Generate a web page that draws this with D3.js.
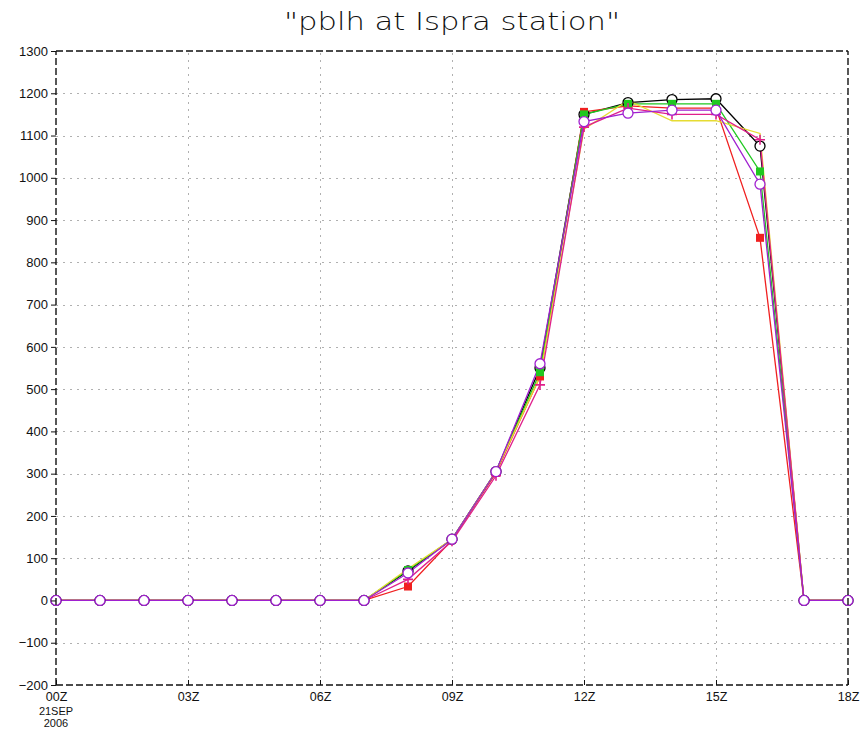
<!DOCTYPE html>
<html>
<head>
<meta charset="utf-8">
<script src="https://cdn.jsdelivr.net/npm/d3@7"></script>
<style>
  html, body { margin: 0; padding: 0; background: #fff; }
  svg { display: block; }
</style>
</head>
<body>
<svg id="chart" width="864" height="731"></svg>
<script>
// Hours after 00Z on 21 SEP 2006
const hours = d3.range(0, 19);
const xTickLabels = ["00Z", "03Z", "06Z", "09Z", "12Z", "15Z", "18Z"];
const yTicks = d3.range(-200, 1301, 100);

// Boundary-layer height (m) per run
const blackVals   = [0,0,0,0,0,0,0,0,70,145,305,550,1150,1178,1185,1187,1075,0,0];
const redVals     = [0,0,0,0,0,0,0,0,33,143,302,530,1156,1170,1165,1165,858,0,0];
const greenVals   = [0,0,0,0,0,0,0,0,72,145,305,540,1150,1175,1175,1175,1015,0,0];
const yellowVals  = [0,0,0,0,0,0,0,0,75,145,305,530,1115,1183,1135,1135,1105,0,0];
const magentaVals = [0,0,0,0,0,0,0,0,50,140,295,510,1120,1165,1150,1150,1090,0,0];
const purpleVals  = [0,0,0,0,0,0,0,0,65,145,305,560,1133,1153,1160,1160,985,0,0];

const series = [
  { values: blackVals,   color: "#000000", mark: "openCircle" },
  { values: redVals,     color: "#f02020", mark: "filledSquare" },
  { values: greenVals,   color: "#20c820", mark: "filledSquare" },
  { values: yellowVals,  color: "#e6dc32", mark: "none" },
  { values: magentaVals, color: "#e0208c", mark: "plus" },
  { values: purpleVals,  color: "#a020d0", mark: "openCircle" }
];

const svg = d3.select("#chart");
const margin = { left: 56, right: 16, top: 51, bottom: 46 };
const W = 864, H = 731;

const x = d3.scaleLinear().domain([0, 18]).range([margin.left, W - margin.right]);
const y = d3.scaleLinear().domain([-200, 1300]).range([H - margin.bottom, margin.top]);

// Title
svg.append("text")
  .attr("x", 452).attr("y", 30)
  .attr("text-anchor", "middle")
  .attr("font-family", "DejaVu Sans")
  .attr("font-weight", 200)
  .attr("font-size", 25)
  .attr("textLength", 336)
  .attr("lengthAdjust", "spacingAndGlyphs")
  .attr("fill", "#111")
  .text("\"pblh at Ispra station\"");

// Grid
const grid = svg.append("g").attr("stroke", "#b0b0b0").attr("stroke-width", 1)
  .attr("stroke-dasharray", "2,5");
grid.selectAll("line.h").data(yTicks.filter(v => v > -200 && v < 1300)).join("line")
  .attr("x1", x(0)).attr("x2", x(18))
  .attr("y1", d => Math.round(y(d)) + 0.5).attr("y2", d => Math.round(y(d)) + 0.5);
grid.selectAll("line.v").data([3, 6, 9, 12, 15]).join("line")
  .attr("y1", y(-200)).attr("y2", y(1300))
  .attr("x1", d => Math.round(x(d)) + 0.5).attr("x2", d => Math.round(x(d)) + 0.5);

// Series
const line = d3.line().x((d, i) => x(hours[i])).y(d => y(d));
const plot = svg.append("g");
series.forEach(s => {
  plot.append("path")
    .attr("d", line(s.values))
    .attr("fill", "none")
    .attr("stroke", s.color)
    .attr("stroke-width", 1.3);
});
series.forEach(s => {
  const g = plot.append("g");
  s.values.forEach((v, i) => {
    const cx = x(hours[i]), cy = y(v);
    if (s.mark === "openCircle") {
      g.append("circle").attr("cx", cx).attr("cy", cy).attr("r", 5)
        .attr("fill", "#fff").attr("stroke", s.color).attr("stroke-width", 1.3);
    } else if (s.mark === "filledSquare") {
      g.append("rect").attr("x", cx - 4).attr("y", cy - 4).attr("width", 8).attr("height", 8)
        .attr("fill", s.color);
    } else if (s.mark === "plus") {
      g.append("path").attr("d", `M${cx - 5},${cy}H${cx + 5}M${cx},${cy - 5}V${cy + 5}`)
        .attr("stroke", s.color).attr("stroke-width", 1.6);
    }
  });
});

// Frame (dashed)
const frame = svg.append("g").attr("stroke", "#111").attr("stroke-width", 1.4)
  .attr("stroke-dasharray", "7,3").attr("fill", "none");
frame.append("line").attr("x1", x(0)).attr("x2", x(18)).attr("y1", y(1300)).attr("y2", y(1300));
frame.append("line").attr("x1", x(0)).attr("x2", x(18)).attr("y1", y(-200)).attr("y2", y(-200));
frame.append("line").attr("x1", x(0)).attr("x2", x(0)).attr("y1", y(-200)).attr("y2", y(1300));
frame.append("line").attr("x1", x(18)).attr("x2", x(18)).attr("y1", y(-200)).attr("y2", y(1300));

// Y axis
const yAxis = svg.append("g")
  .attr("transform", `translate(${x(0)},0)`)
  .call(d3.axisLeft(y).tickValues(yTicks).tickSize(5).tickPadding(3)
    .tickFormat(d => d < 0 ? "\u2212" + Math.abs(d) : d));
yAxis.select(".domain").remove();
yAxis.selectAll("line").attr("stroke", "#111");
yAxis.selectAll("text").attr("font-family", "Liberation Sans, Arial, sans-serif")
  .attr("font-size", 13).attr("fill", "#111");

// X axis
const xAxis = svg.append("g")
  .attr("transform", `translate(0,${y(-200)})`)
  .call(d3.axisBottom(x).tickValues([0, 3, 6, 9, 12, 15, 18]).tickSize(-5).tickPadding(7)
    .tickFormat((d, i) => xTickLabels[i]));
xAxis.select(".domain").remove();
xAxis.selectAll("line").attr("stroke", "#111");
xAxis.selectAll("text").attr("font-family", "Liberation Sans, Arial, sans-serif")
  .attr("font-size", 12.5).attr("fill", "#111");

// Date under first tick
const dateLines = ["21SEP", "2006"];
svg.append("g").selectAll("text").data(dateLines).join("text")
  .attr("x", x(0)).attr("y", (d, i) => y(-200) + 30 + i * 12)
  .attr("text-anchor", "middle")
  .attr("font-family", "Liberation Sans, Arial, sans-serif")
  .attr("font-size", 11).attr("fill", "#111")
  .text(d => d);
</script>
</body>
</html>
